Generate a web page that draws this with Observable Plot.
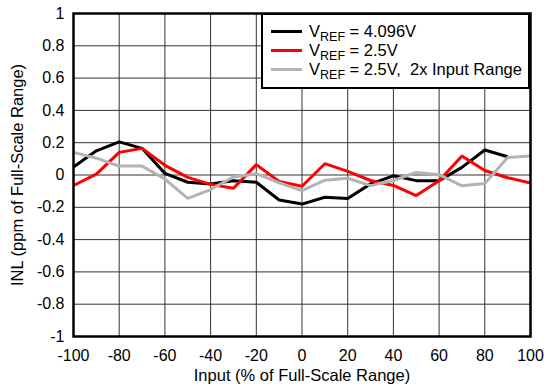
<!DOCTYPE html>
<html>
<head>
<meta charset="utf-8">
<script src="https://cdn.jsdelivr.net/npm/d3@7"></script>
<script src="https://cdn.jsdelivr.net/npm/@observablehq/plot@0.6"></script>
<style>
  html, body { margin: 0; padding: 0; background: #fff; }
  #wrap { position: relative; width: 544px; height: 387px; font-family: "Liberation Sans", Arial, sans-serif; }
  #legend { position: absolute; left: 261px; top: 13px; width: 269px; height: 76px; box-sizing: border-box;
            border: 2px solid #000; background: #fff; font-size: 16.5px; color: #000; padding-top: 7px; }
  .row { display: flex; align-items: center; height: 19px; }
  .sw { width: 31px; height: 3px; margin-left: 8px; margin-right: 7px; flex: none; }
  .row span { white-space: nowrap; }
  sub { font-size: 12.5px; vertical-align: -4px; line-height: 0; }
</style>
</head>
<body>
<div id="wrap"></div>
<script>
const inputPct = [-100, -90, -80, -70, -60, -50, -40, -30, -20, -10, 0, 10, 20, 30, 40, 50, 60, 70, 80, 90, 100];
const inlVref4096 = [0.05, 0.15, 0.205, 0.165, 0.01, -0.045, -0.055, -0.035, -0.045, -0.155, -0.18, -0.138, -0.145, -0.055, -0.005, -0.035, -0.035, 0.047, 0.155, 0.113];
const inlVref25 = [-0.065, 0.005, 0.14, 0.165, 0.06, -0.015, -0.058, -0.082, 0.064, -0.04, -0.07, 0.07, 0.022, -0.034, -0.065, -0.127, -0.035, 0.118, 0.028, -0.017, -0.05];
const inlVref25x2 = [0.14, 0.104, 0.055, 0.055, -0.025, -0.145, -0.09, -0.012, 0.008, -0.048, -0.097, -0.032, -0.02, -0.066, -0.034, 0.016, 0.002, -0.067, -0.053, 0.108, 0.118];
const seriesNames = ["VREF = 4.096V", "VREF = 2.5V", "VREF = 2.5V, 2x Input Range"];
const seriesColors = ["#000000", "#ff0000", "#b3b3b3"];
const xTicks = [-100, -80, -60, -40, -20, 0, 20, 40, 60, 80, 100];
const yTicks = [-1, -0.8, -0.6, -0.4, -0.2, 0, 0.2, 0.4, 0.6, 0.8, 1];

const rows = [];
[inlVref4096, inlVref25, inlVref25x2].forEach((arr, si) => {
  arr.forEach((v, i) => rows.push({series: seriesNames[si], x: inputPct[i], y: v}));
});

const fmt = d => String(d).replace("\u2212", "-");

const chart = Plot.plot({
  width: 544,
  height: 387,
  marginLeft: 73,
  marginRight: 14,
  marginTop: 13,
  marginBottom: 51,
  style: {fontFamily: "Liberation Sans, Arial, sans-serif", fontSize: "16px", color: "#000", background: "#fff"},
  x: {domain: [-100, 100]},
  y: {domain: [-1, 1]},
  color: {domain: seriesNames, range: seriesColors},
  marks: [
    Plot.gridX(xTicks, {stroke: "#333", strokeOpacity: 1, strokeWidth: 1}),
    Plot.gridY(yTicks, {stroke: "#333", strokeOpacity: 1, strokeWidth: 1}),
    Plot.line(rows, {x: "x", y: "y", z: "series", stroke: "series", strokeWidth: 3, strokeLinejoin: "miter", strokeLinecap: "butt"}),
    Plot.frame({stroke: "#000", strokeWidth: 2.5}),
    Plot.axisX({ticks: xTicks, tickSize: 0, tickPadding: 13, tickFormat: fmt, fontSize: 16, label: null}),
    Plot.axisX({ticks: [], tickSize: 0, fontSize: 16.5,
                label: "Input (% of Full-Scale Range)", labelAnchor: "center", labelArrow: "none", labelOffset: 44}),
    Plot.axisY({ticks: yTicks, tickSize: 0, tickPadding: 9, tickFormat: fmt, fontSize: 16, label: null}),
    Plot.axisY({ticks: [], tickSize: 0, fontSize: 16.5,
                label: "INL (ppm of Full-Scale Range)", labelAnchor: "center", labelArrow: "none", labelOffset: 62})
  ]
});
const wrap = document.getElementById("wrap");
wrap.appendChild(chart);

const legend = document.createElement("div");
legend.id = "legend";
const labelsHtml = ["V<sub>REF</sub> = 4.096V", "V<sub>REF</sub> = 2.5V", "V<sub>REF</sub> = 2.5V,&nbsp; 2x Input Range"];
labelsHtml.forEach((h, i) => {
  const r = document.createElement("div");
  r.className = "row";
  r.innerHTML = `<div class="sw" style="background:${seriesColors[i]}"></div><span>${h}</span>`;
  legend.appendChild(r);
});
wrap.appendChild(legend);
</script>
</body>
</html>
